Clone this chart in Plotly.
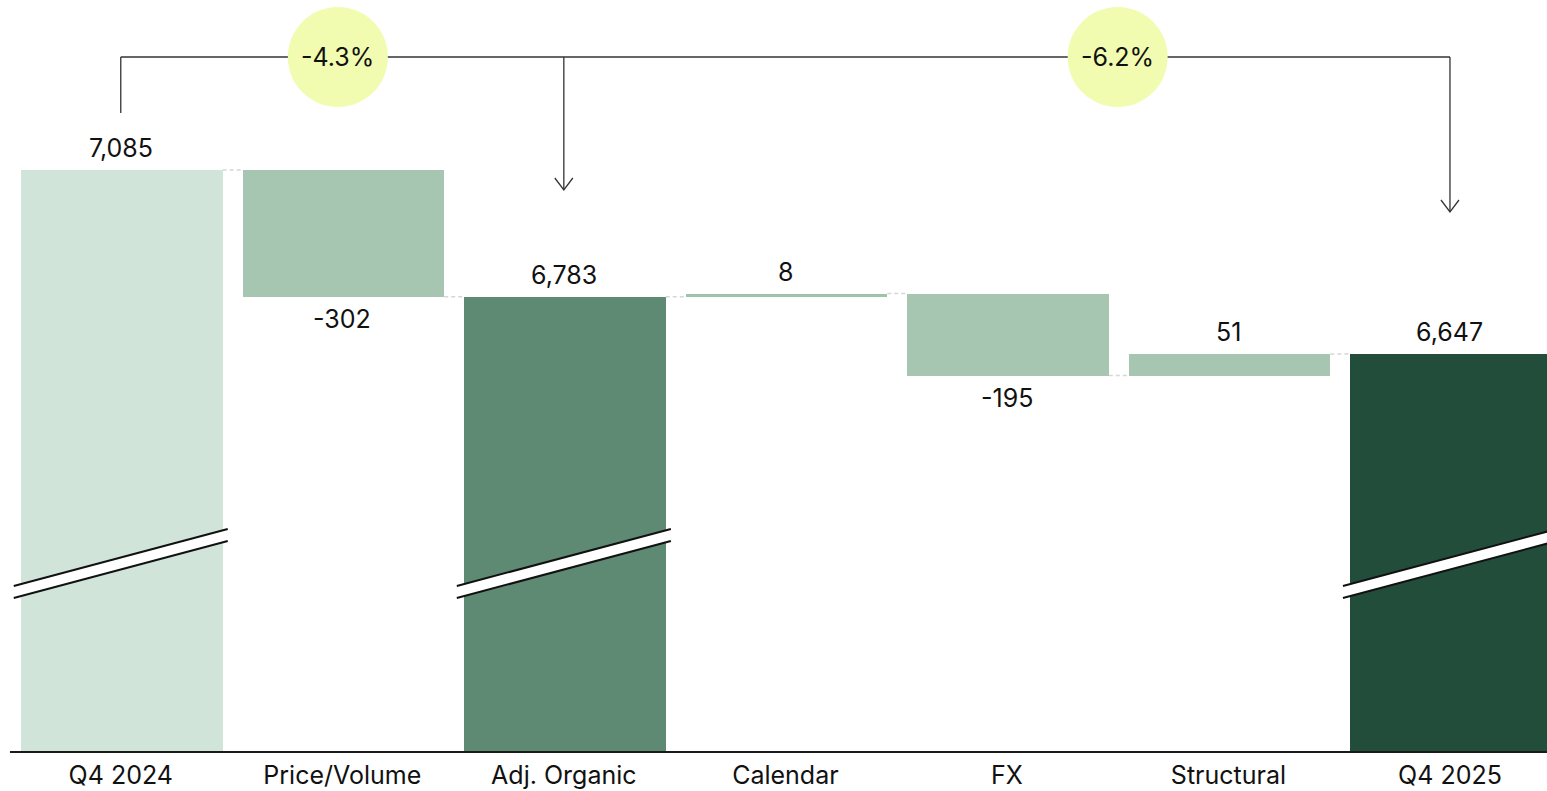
import plotly.graph_objects as go

# ---------------- data ----------------
categories = ["Q4 2024", "Price/Volume", "Adj. Organic", "Calendar", "FX", "Structural", "Q4 2025"]
measures = ["absolute", "relative", "total", "relative", "relative", "relative", "total"]
values = [7085, -302, 6783, 8, -195, 51, 6647]
value_labels = ["7,085", "-302", "6,783", "8", "-195", "51", "6,647"]
bar_colors = ["#d1e4da", "#a6c6b2", "#5e8a74", "#9cc3ab", "#a6c6b2", "#a6c6b2", "#234d3b"]
growth_labels = ["-4.3%", "-6.2%"]
growth_x = [0.98, 4.5]
bracket_from = 0
bracket_to = [2, 6]
break_bars = [0, 2, 6]

FONT = "Inter, Roboto, sans-serif"
W, H = 1547, 791
ML, MB = 10, 40
PH = H - MB  # plot height in px
BAR_W = 0.91


def py(p):
    """pixel (from top of plot area) -> paper y"""
    return 1 - p / PH


# ---------------- waterfall geometry from data ----------------
bases, heights, ends = [], [], []
running = 0
for m, v in zip(measures, values):
    if m in ("absolute", "total"):
        bases.append(0)
        heights.append(v)
        running = v
        ends.append((v, 1))
    else:
        bases.append(running)
        heights.append(v)
        running += v
        ends.append((running, 1 if v > 0 else -1))

x = list(range(len(categories)))

fig = go.Figure()
fig.add_trace(go.Bar(
    x=[xi + 0.005 for xi in x], y=heights, base=bases, width=BAR_W,
    marker=dict(color=bar_colors, line=dict(width=0)),
    hoverinfo="skip", showlegend=False,
))

shapes = []
annotations = []

# connectors
levels = []
running = 0
for m, v in zip(measures, values):
    running = v if m in ("absolute", "total") else running + v
    levels.append(running)
for i in range(len(categories) - 1):
    shapes.append(dict(type="line", xref="x", yref="y",
                       x0=i + 0.005 + BAR_W / 2, x1=i + 1.005 - BAR_W / 2,
                       y0=levels[i], y1=levels[i],
                       line=dict(color="#d6d6d6", width=1.5, dash="4px,3px"), layer="above"))

# value labels
for i, (lab, (yv, d)) in enumerate(zip(value_labels, ends)):
    annotations.append(dict(x=i, y=yv, xref="x", yref="y", text=lab, showarrow=False,
                            yanchor="middle", yshift=22 * d,
                            font=dict(family=FONT, size=25, color="#111111")))

# break marks
half = 107 / 221.5
for b in break_bars:
    xl, xr = b - half, b + half
    yl_top, yr_top = py(586), py(529)
    yl_bot, yr_bot = py(598), py(541)
    shapes.append(dict(type="path", xref="x", yref="paper",
                       path=f"M{xl},{yl_top} L{xr},{yr_top} L{xr},{yr_bot} L{xl},{yl_bot} Z",
                       fillcolor="white", line=dict(width=0), layer="above"))
    for (a, c) in [(yl_top, yr_top), (yl_bot, yr_bot)]:
        shapes.append(dict(type="line", xref="x", yref="paper", x0=xl, x1=xr, y0=a, y1=c,
                           line=dict(color="#111111", width=2), layer="above"))

# bracket
top = py(57)
LINE = dict(color="#333333", width=1.3)
shapes.append(dict(type="line", xref="x", yref="paper", x0=bracket_from, x1=bracket_from,
                   y0=py(113), y1=top, line=LINE))
shapes.append(dict(type="line", xref="x", yref="paper", x0=bracket_from, x1=bracket_to[-1],
                   y0=top, y1=top, line=LINE))
arrow_ends = [190, 212]
ah = 9 / 221.5
for bt, ae in zip(bracket_to, arrow_ends):
    shapes.append(dict(type="line", xref="x", yref="paper", x0=bt, x1=bt,
                       y0=top, y1=py(ae), line=LINE))
    shapes.append(dict(type="path", xref="x", yref="paper",
                       path=f"M{bt - ah},{py(ae - 12)} L{bt},{py(ae)} L{bt + ah},{py(ae - 12)}",
                       line=LINE))

# growth circles
for gx, gl in zip(growth_x, growth_labels):
    shapes.append(dict(type="circle", xref="x", yref="paper", xsizemode="pixel", ysizemode="pixel",
                       xanchor=gx, yanchor=top, x0=-50, x1=50, y0=-50, y1=50,
                       fillcolor="#f1fcb0", line=dict(width=0), layer="above"))
    annotations.append(dict(x=gx, y=top, xref="x", yref="paper", text=gl, showarrow=False,
                            yanchor="middle", font=dict(family=FONT, size=25, color="#111111")))

fig.update_layout(
    width=W, height=H,
    margin=dict(l=ML, r=0, t=0, b=MB, pad=0),
    paper_bgcolor="white", plot_bgcolor="white",
    bargap=0,
    shapes=shapes, annotations=annotations,
    xaxis=dict(tickvals=x, ticktext=categories, range=[-0.5, 6.438],
               showline=True, linecolor="#1a1a1a", linewidth=1.5, ticks="",
               ticklabelstandoff=1,
               showgrid=False, zeroline=False, fixedrange=True,
               tickfont=dict(family=FONT, size=25, color="#111111")),
    yaxis=dict(range=[5703, 7489], visible=False, showgrid=False, zeroline=False, fixedrange=True),
    font=dict(family=FONT),
)

fig.write_html("out.html")
